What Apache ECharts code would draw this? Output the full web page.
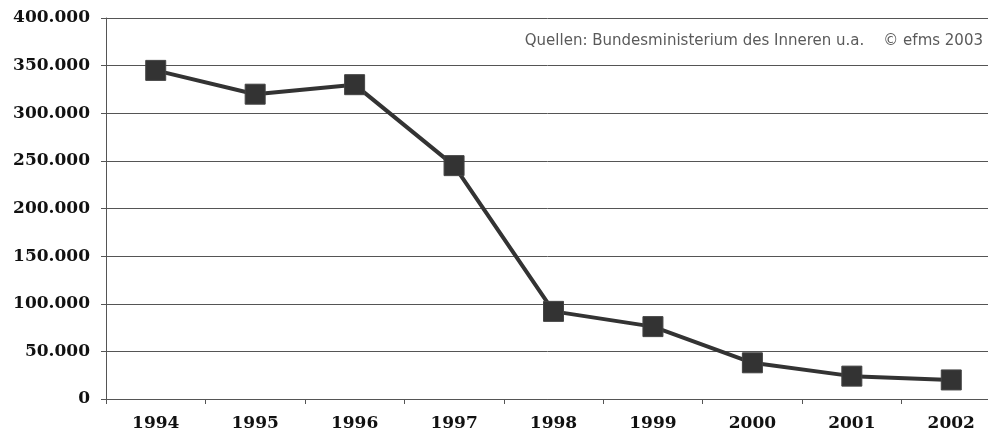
<!DOCTYPE html>
<html>
<head>
<meta charset="utf-8">
<script src="https://cdn.jsdelivr.net/npm/echarts@6/dist/echarts.min.js"></script>
<style>
  html, body { margin: 0; padding: 0; background: #fff; }
  #chart { width: 988px; height: 434px; }
</style>
</head>
<body>
<div id="chart"></div>
<script>
// Jahre und Werte
const years = ['1994', '1995', '1996', '1997', '1998', '1999', '2000', '2001', '2002'];
const values = [345000, 320000, 330000, 245000, 92000, 76000, 38000, 24000, 20000];
const sourceText = 'Quellen: Bundesministerium des Inneren u.a.    © efms 2003';

const chart = echarts.init(document.getElementById('chart'));

const fmt = v => v === 0 ? '0' : String(v).replace(/\B(?=(\d{3})+(?!\d))/g, '.');

chart.setOption({
    animation: false,
    grid: {
        left: 106,
        right: -13,
        top: 18,
        bottom: 35,
        containLabel: false,
        outerBoundsMode: 'none'
    },
    graphic: [{
        type: 'text',
        right: 5,
        top: 34,
        style: {
            text: sourceText,
            fill: '#5a5a5a',
            font: '15px "DejaVu Sans", sans-serif'
        }
    }],
    xAxis: {
        type: 'category',
        data: years,
        boundaryGap: true,
        axisLine: { lineStyle: { color: '#555', width: 1 } },
        axisTick: { show: true, length: 5, lineStyle: { color: '#555' } },
        axisLabel: {
            margin: 16,
            color: '#111',
            fontFamily: '"DejaVu Serif", serif',
            fontWeight: 'bold',
            fontSize: 17
        }
    },
    yAxis: {
        type: 'value',
        min: 0,
        max: 400000,
        interval: 50000,
        axisLine: { show: true, lineStyle: { color: '#555', width: 1 } },
        axisTick: { show: true, length: 5, lineStyle: { color: '#555' } },
        splitLine: { lineStyle: { color: '#555', width: 1 } },
        axisLabel: {
            margin: 16,
            color: '#111',
            fontFamily: '"DejaVu Serif", serif',
            fontWeight: 'bold',
            fontSize: 17,
            formatter: fmt
        }
    },
    series: [{
        type: 'line',
        data: values,
        symbol: 'rect',
        symbolSize: 20,
        lineStyle: { color: '#333', width: 4 },
        itemStyle: { color: '#333', borderColor: '#444', borderWidth: 1 }
    }]
});
</script>
</body>
</html>
